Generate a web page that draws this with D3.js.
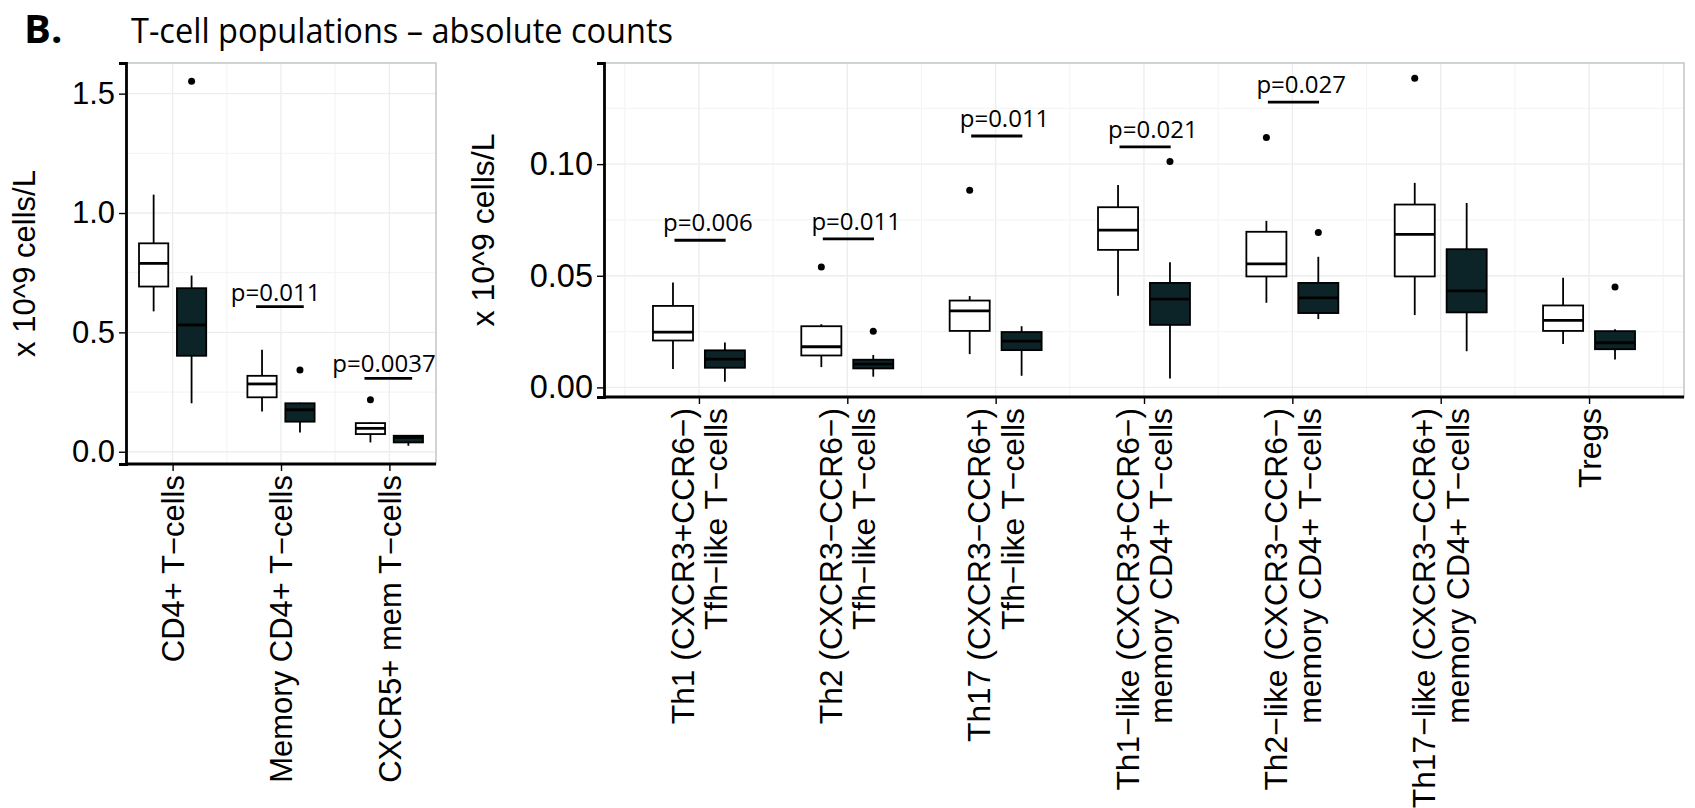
<!DOCTYPE html>
<html>
<head>
<meta charset="utf-8">
<script src="https://cdn.jsdelivr.net/npm/d3@7"></script>
<style>
  body { margin: 0; background: #fff; }
  svg { display: block; }
</style>
</head>
<body>
<svg id="chart"></svg>
<script>
// Category labels (each entry = lines of the rotated label)
const leftCats = [["CD4+ T−cells"], ["Memory CD4+ T−cells"], ["CXCR5+ mem T−cells"]];
const rightCats = [
  ["Th1 (CXCR3+CCR6−)", "Tfh−like T−cells"],
  ["Th2 (CXCR3−CCR6−)", "Tfh−like T−cells"],
  ["Th17 (CXCR3−CCR6+)", "Tfh−like T−cells"],
  ["Th1−like (CXCR3+CCR6−)", "memory CD4+ T−cells"],
  ["Th2−like (CXCR3−CCR6−)", "memory CD4+ T−cells"],
  ["Th17−like (CXCR3−CCR6+)", "memory CD4+ T−cells"],
  ["Tregs"]
];

// Box stats per category: [lower whisker, q1, median, q3, upper whisker]
const leftWhite = [
  [0.588, 0.692, 0.789, 0.873, 1.077],
  [0.169, 0.228, 0.284, 0.318, 0.427],
  [0.039, 0.074, 0.098, 0.120, 0.123]
];
const leftDark = [
  [0.203, 0.402, 0.531, 0.685, 0.738],
  [0.081, 0.126, 0.176, 0.203, 0.205],
  [0.025, 0.039, 0.060, 0.067, 0.070]
];
const leftWhiteOut = [[], [], [0.218]];
const leftDarkOut = [[1.552], [0.342], []];

const rightWhite = [
  [0.0082, 0.0210, 0.0248, 0.0365, 0.0470],
  [0.0091, 0.0143, 0.0182, 0.0274, 0.0283],
  [0.0149, 0.0253, 0.0343, 0.0389, 0.0409],
  [0.0410, 0.0616, 0.0704, 0.0807, 0.0906],
  [0.0379, 0.0497, 0.0553, 0.0697, 0.0746],
  [0.0324, 0.0497, 0.0685, 0.0819, 0.0916],
  [0.0194, 0.0253, 0.0300, 0.0367, 0.0491]
];
const rightDark = [
  [0.0025, 0.0088, 0.0127, 0.0166, 0.0201],
  [0.0048, 0.0085, 0.0104, 0.0124, 0.0145],
  [0.0052, 0.0167, 0.0207, 0.0248, 0.0274],
  [0.0040, 0.0280, 0.0395, 0.0468, 0.0560],
  [0.0306, 0.0333, 0.0401, 0.0468, 0.0585],
  [0.0162, 0.0336, 0.0432, 0.0619, 0.0826],
  [0.0125, 0.0171, 0.0200, 0.0252, 0.0261]
];
const rightWhiteOut = [[], [0.0539], [0.0883], [], [0.1119], [0.1385], []];
const rightDarkOut = [[], [0.0251], [], [0.1012], [0.0694], [], [0.0450]];

// p-value annotations: category index, label, height of the bar
const leftPCats = [1, 2];
const leftPLabels = ["p=0.011", "p=0.0037"];
const leftPValues = [0.608, 0.307];
const rightPCats = [0, 1, 2, 3, 4];
const rightPLabels = ["p=0.006", "p=0.011", "p=0.011", "p=0.021", "p=0.027"];
const rightPValues = [0.0659, 0.0665, 0.1126, 0.1077, 0.1278];

const W = 1695, H = 808;
const darkFill = "#0c2427";
const axisFont = "'Liberation Sans', Arial, sans-serif";
const annoFont = "'Open Sans', sans-serif";

const svg = d3.select("#chart").attr("width", W).attr("height", H);

// Heading
svg.append("text")
  .attr("x", 24).attr("y", 43)
  .style("font-family", annoFont).style("font-weight", 700).style("font-size", "40px")
  .text("B.");
svg.append("text")
  .attr("x", 131).attr("y", 43)
  .attr("textLength", 542).attr("lengthAdjust", "spacingAndGlyphs")
  .style("font-family", annoFont).style("font-size", "35px")
  .text("T-cell populations – absolute counts");

function drawPanel(p) {
  const g = svg.append("g");

  const x = d3.scalePoint()
    .domain(d3.range(p.cats.length))
    .range([p.left, p.right])
    .padding(p.pad);
  const step = x.step();

  // y range like ggplot: data extent + 5%
  const all = [...p.white.flat(), ...p.dark.flat(), ...p.whiteOut.flat(), ...p.darkOut.flat()];
  const [lo, hi] = d3.extent(all);
  const ext = (hi - lo) * 0.05;
  const y = d3.scaleLinear().domain([lo - ext, hi + ext]).range([p.bottom, p.top]);

  const majors = y.ticks(p.tickCount);
  const tStep = majors[1] - majors[0];
  const minors = majors.map((t) => t + tStep / 2).concat([majors[0] - tStep / 2])
    .filter((t) => t > y.domain()[0] && t < y.domain()[1]);

  // Grid
  const grid = g.append("g");
  grid.selectAll(".ymin").data(minors).enter().append("line")
    .attr("x1", p.left).attr("x2", p.right)
    .attr("y1", (d) => y(d)).attr("y2", (d) => y(d))
    .attr("stroke", "#f4f5f5").attr("stroke-width", 1.2);
  const xMinors = d3.range(p.cats.length + 1).map((i) => x(0) + (i - 0.5) * step)
    .filter((v) => v > p.left && v < p.right);
  grid.selectAll(".xmin").data(xMinors).enter().append("line")
    .attr("x1", (d) => d).attr("x2", (d) => d)
    .attr("y1", p.top).attr("y2", p.bottom)
    .attr("stroke", "#f4f5f5").attr("stroke-width", 1.2);
  grid.selectAll(".ymaj").data(majors).enter().append("line")
    .attr("x1", p.left).attr("x2", p.right)
    .attr("y1", (d) => y(d)).attr("y2", (d) => y(d))
    .attr("stroke", "#eceeee").attr("stroke-width", 1.4);
  grid.selectAll(".xmaj").data(x.domain()).enter().append("line")
    .attr("x1", (d) => x(d)).attr("x2", (d) => x(d))
    .attr("y1", p.top).attr("y2", p.bottom)
    .attr("stroke", "#eceeee").attr("stroke-width", 1.4);

  // Panel border (top/right light, left/bottom black axis lines)
  g.append("rect")
    .attr("x", p.left).attr("y", p.top)
    .attr("width", p.right - p.left).attr("height", p.bottom - p.top)
    .attr("fill", "none").attr("stroke", "#c3cbc9").attr("stroke-width", 1.6);

  // Boxes
  const groups = [
    { stats: p.white, out: p.whiteOut, fill: "#fff", off: -0.175 },
    { stats: p.dark, out: p.darkOut, fill: darkFill, off: 0.175 }
  ];
  const half = step * 0.135;
  groups.forEach((grp) => {
    const cx = (i) => x(i) + grp.off * step;
    const bx = g.append("g").selectAll("g").data(grp.stats).enter().append("g");
    bx.append("line")
      .attr("x1", (d, i) => cx(i)).attr("x2", (d, i) => cx(i))
      .attr("y1", (d) => y(d[0])).attr("y2", (d) => y(d[4]))
      .attr("stroke", "#000").attr("stroke-width", 1.8);
    bx.append("rect")
      .attr("x", (d, i) => cx(i) - half).attr("width", half * 2)
      .attr("y", (d) => y(d[3])).attr("height", (d) => y(d[1]) - y(d[3]))
      .attr("fill", grp.fill).attr("stroke", "#000").attr("stroke-width", 1.8);
    bx.append("line")
      .attr("x1", (d, i) => cx(i) - half).attr("x2", (d, i) => cx(i) + half)
      .attr("y1", (d) => y(d[2])).attr("y2", (d) => y(d[2]))
      .attr("stroke", "#000").attr("stroke-width", 2.8);
    const pts = grp.out.flatMap((vals, i) => vals.map((v) => ({ i, v })));
    g.append("g").selectAll("circle").data(pts).enter().append("circle")
      .attr("cx", (d) => cx(d.i)).attr("cy", (d) => y(d.v))
      .attr("r", 3.5).attr("fill", "#000");
  });

  // p-value bars and labels
  const ann = g.append("g");
  p.pCats.forEach((c, k) => {
    const x1 = x(c) - step * p.barL, x2 = x(c) + step * p.barR;
    ann.append("line")
      .attr("x1", x1).attr("x2", x2)
      .attr("y1", y(p.pValues[k])).attr("y2", y(p.pValues[k]))
      .attr("stroke", "#000").attr("stroke-width", 2.8);
    ann.append("text")
      .attr("x", x(c) + step * p.pShift).attr("y", y(p.pValues[k]) - p.pGap)
      .attr("text-anchor", "middle")
      .style("font-family", annoFont).style("font-size", "24px")
      .text(p.pLabels[k]);
  });

  // Y axis
  const yAxis = g.append("g")
    .attr("transform", `translate(${p.left},0)`)
    .call(d3.axisLeft(y).tickValues(majors).tickFormat(d3.format(p.fmt)).tickSize(7).tickPadding(4));
  yAxis.select(".domain").attr("stroke", "#000").attr("stroke-width", 2.8);
  yAxis.selectAll(".tick line").attr("stroke", "#000").attr("stroke-width", 1.4);
  yAxis.selectAll(".tick text")
    .style("font-family", axisFont).style("font-size", p.tickSize + "px").attr("fill", "#000");

  // X axis
  const xAxis = g.append("g")
    .attr("transform", `translate(0,${p.bottom})`)
    .call(d3.axisBottom(x).tickSize(7).tickFormat(""));
  xAxis.select(".domain").attr("stroke", "#000").attr("stroke-width", 2.8)
    .attr("d", `M${p.left},0H${p.right}`);
  xAxis.selectAll(".tick line").attr("stroke", "#000").attr("stroke-width", 1.4);

  // Rotated category labels
  const lh = 33.4;
  p.cats.forEach((lines, i) => {
    lines.forEach((ln, j) => {
      const dx = (j - (lines.length - 1) / 2) * lh;
      g.append("text")
        .attr("transform", `translate(${x(i) + dx},${p.bottom + 11}) rotate(-90)`)
        .attr("text-anchor", "end")
        .attr("dy", "0.36em")
        .style("font-family", axisFont).style("font-size", p.labelSize + "px")
        .text(ln);
    });
  });

  // Y axis title
  g.append("text")
    .attr("transform", `translate(${p.titleX},${(p.top + p.bottom) / 2}) rotate(-90)`)
    .attr("text-anchor", "middle").attr("dy", "0.36em")
    .style("font-family", axisFont).style("font-size", p.titleSize + "px")
    .text("x 10^9 cells/L");
}

drawPanel({
  cats: leftCats, white: leftWhite, dark: leftDark,
  whiteOut: leftWhiteOut, darkOut: leftDarkOut,
  pCats: leftPCats, pLabels: leftPLabels, pValues: leftPValues,
  left: 126, right: 436, top: 63, bottom: 464, pad: 0.43,
  tickCount: 4, fmt: ".1f", titleX: 24,
  tickSize: 31, labelSize: 31, titleSize: 31,
  barL: 0.23, barR: 0.21, pShift: -0.05, pGap: 6
});

drawPanel({
  cats: rightCats, white: rightWhite, dark: rightDark,
  whiteOut: rightWhiteOut, darkOut: rightDarkOut,
  pCats: rightPCats, pLabels: rightPLabels, pValues: rightPValues,
  left: 604, right: 1684, top: 63, bottom: 397, pad: 0.64,
  tickCount: 3, fmt: ".2f", titleX: 482,
  tickSize: 32.5, labelSize: 31.8, titleSize: 32,
  barL: 0.165, barR: 0.18, pShift: 0.06, pGap: 9
});
</script>
</body>
</html>
